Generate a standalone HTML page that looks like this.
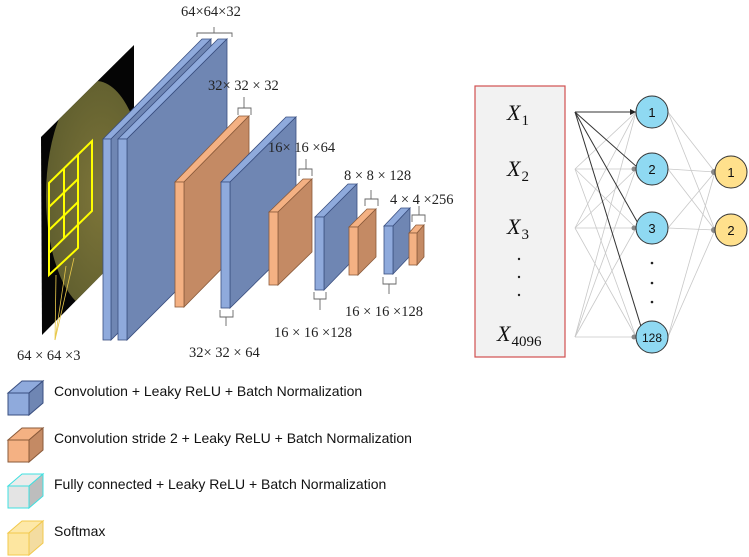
<!DOCTYPE html>
<html><head><meta charset="utf-8"><style>
body{margin:0;background:#fff}
svg{display:block}
.s{font-family:"Liberation Serif",serif;font-size:14.5px;fill:#222}
.l{font-family:"Liberation Sans",sans-serif;font-size:14px;fill:#111}
.x{font-family:"Liberation Serif",serif;font-style:italic;font-size:22px;fill:#111}
.sub{font-family:"Liberation Serif",serif;font-style:normal;font-size:15px;fill:#111}
.n{font-family:"Liberation Sans",sans-serif;font-size:13px;fill:#111;text-anchor:middle}
</style></head><body>
<svg width="749" height="557" viewBox="0 0 749 557" xmlns="http://www.w3.org/2000/svg">
<defs>
<clipPath id="cp"><polygon points="41,137 134,45 134,242 42,335"/></clipPath>
<radialGradient id="rg" cx="0.55" cy="0.5" r="0.6"><stop offset="0" stop-color="#7d7539"/><stop offset="1" stop-color="#5e5d2e"/></radialGradient>
</defs>
<polygon points="41,137 134,45 134,242 42,335" fill="#050505"/>
<g clip-path="url(#cp)"><ellipse cx="96" cy="196" rx="50" ry="115" fill="url(#rg)"/></g>
<g stroke="#ffff00" stroke-width="2" fill="none">
<polygon points="49,183 92,141 92,211 49,253"/>
<polyline points="49,253 49,275 78,248 78,225"/>
<line x1="78" y1="155" x2="78" y2="225"/>
<line x1="64" y1="169" x2="64" y2="239"/>
<line x1="49" y1="207" x2="78" y2="179"/>
<line x1="49" y1="230" x2="78" y2="202"/>
</g>
<g stroke="#e8c84a" stroke-width="0.8"><line x1="55" y1="340" x2="56" y2="275"/><line x1="55" y1="340" x2="66" y2="266"/><line x1="55" y1="340" x2="74" y2="258"/></g>

<g stroke="#3a4f80" stroke-width="0.8">
<polygon points="103,139 202,39 211,39 111,139" fill="#8faadc"/>
<polygon points="111,139 211,39 211,240 111,340" fill="#6f86b3"/>
<rect x="103" y="139" width="8" height="201" fill="#8faadc"/>
<polygon points="118,139 218,39 227,39 127,139" fill="#8faadc"/>
<polygon points="127,139 227,39 227,240 127,340" fill="#6f86b3"/>
<rect x="118" y="139" width="9" height="201" fill="#8faadc"/>
</g>
<g stroke="#8a5a3a" stroke-width="0.8">
<polygon points="175,182 239,116 249,116 184,182" fill="#f4b183"/>
<polygon points="184,182 249,116 249,241 184,307" fill="#c48a64"/>
<rect x="175" y="182" width="9" height="125" fill="#f4b183"/>
</g>
<g stroke="#3a4f80" stroke-width="0.8">
<polygon points="221,182 286,117 296,117 230,182" fill="#8faadc"/>
<polygon points="230,182 296,117 296,243 230,308" fill="#6f86b3"/>
<rect x="221" y="182" width="9" height="126" fill="#8faadc"/>
</g>
<g stroke="#8a5a3a" stroke-width="0.8">
<polygon points="269,212 303,179 312,179 278,212" fill="#f4b183"/>
<polygon points="278,212 312,179 312,252 278,285" fill="#c48a64"/>
<rect x="269" y="212" width="9" height="73" fill="#f4b183"/>
</g>
<g stroke="#3a4f80" stroke-width="0.8">
<polygon points="315,217 348,184 357,184 324,217" fill="#8faadc"/>
<polygon points="324,217 357,184 357,256 324,290" fill="#6f86b3"/>
<rect x="315" y="217" width="9" height="73" fill="#8faadc"/>
</g>
<g stroke="#8a5a3a" stroke-width="0.8">
<polygon points="349,227 367,209 376,209 358,227" fill="#f4b183"/>
<polygon points="358,227 376,209 376,257 358,275" fill="#c48a64"/>
<rect x="349" y="227" width="9" height="48" fill="#f4b183"/>
</g>
<g stroke="#3a4f80" stroke-width="0.8">
<polygon points="384,226 401,208 410,208 393,226" fill="#8faadc"/>
<polygon points="393,226 410,208 410,256 393,274" fill="#6f86b3"/>
<rect x="384" y="226" width="9" height="48" fill="#8faadc"/>
</g>
<g stroke="#8a5a3a" stroke-width="0.8">
<polygon points="409,233 416,225 424,225 417,233" fill="#f4b183"/>
<polygon points="417,233 424,225 424,257 417,265" fill="#c48a64"/>
<rect x="409" y="233" width="8" height="32" fill="#f4b183"/>
</g>

<g stroke="#666" stroke-width="0.9" fill="none">
<path d="M197,37 v-4 h35 v4 M214,33 v-6"/>
<path d="M238,115 v-7 h13 v7 M244,108 v-11"/>
<path d="M299,176 v-7 h13 v7 M306,169 v-10"/>
<path d="M365,206 v-7 h13 v7 M371,199 v-9"/>
<path d="M412,222 v-7 h13 v7 M419,215 v-9"/>
<path d="M220,310 v7 h13 v-7 M226,317 v9"/>
<path d="M314,292 v7 h12 v-7 M320,299 v11"/>
<path d="M383,277 v7 h13 v-7 M389,284 v10"/>
</g>
<text class="s" x="181" y="16">64×64×32</text>
<text class="s" x="208" y="90">32× 32 × 32</text>
<text class="s" x="268" y="152">16× 16 ×64</text>
<text class="s" x="344" y="180">8 × 8 × 128</text>
<text class="s" x="390" y="204">4 × 4 ×256</text>
<text class="s" x="189" y="357">32× 32 × 64</text>
<text class="s" x="274" y="337">16 × 16 ×128</text>
<text class="s" x="345" y="316">16 × 16 ×128</text>
<text class="s" x="17" y="360">64 × 64 ×3</text>

<rect x="475" y="86" width="90" height="271" fill="#f2f2f2" stroke="#d05050" stroke-width="1.2"/>
<text class="x" x="507" y="120">X<tspan class="sub" dx="1" dy="5">1</tspan></text>
<text class="x" x="507" y="176">X<tspan class="sub" dx="1" dy="5">2</tspan></text>
<text class="x" x="507" y="234">X<tspan class="sub" dx="1" dy="5">3</tspan></text>
<text class="x" x="497" y="341">X<tspan class="sub" dx="1" dy="5">4096</tspan></text>
<g fill="#222"><circle cx="519" cy="259" r="1.2"/><circle cx="519" cy="277" r="1.2"/><circle cx="519" cy="295" r="1.2"/>
<circle cx="652" cy="263" r="1.3"/><circle cx="652" cy="283" r="1.3"/><circle cx="652" cy="302" r="1.3"/></g>
<g stroke="#c8c8c8" stroke-width="0.8">
<line x1="575" y1="169" x2="636" y2="112"/><line x1="575" y1="169" x2="636" y2="169"/><line x1="575" y1="169" x2="636" y2="228"/><line x1="575" y1="169" x2="636" y2="337"/>
<line x1="575" y1="228" x2="636" y2="112"/><line x1="575" y1="228" x2="636" y2="169"/><line x1="575" y1="228" x2="636" y2="228"/><line x1="575" y1="228" x2="636" y2="337"/>
<line x1="575" y1="337" x2="636" y2="112"/><line x1="575" y1="337" x2="636" y2="169"/><line x1="575" y1="337" x2="636" y2="228"/><line x1="575" y1="337" x2="636" y2="337"/>
<line x1="668" y1="112" x2="715" y2="172"/><line x1="668" y1="112" x2="715" y2="230"/>
<line x1="668" y1="169" x2="715" y2="172"/><line x1="668" y1="169" x2="715" y2="230"/>
<line x1="668" y1="228" x2="715" y2="172"/><line x1="668" y1="228" x2="715" y2="230"/>
<line x1="668" y1="337" x2="715" y2="172"/><line x1="668" y1="337" x2="715" y2="230"/>
</g>
<g stroke="#333" stroke-width="1">
<line x1="575" y1="112" x2="636" y2="112"/><line x1="575" y1="112" x2="637" y2="167"/><line x1="575" y1="112" x2="639" y2="225"/><line x1="575" y1="112" x2="643" y2="333"/>
</g>
<g fill="#888"><circle cx="634" cy="169" r="2.5"/><circle cx="634" cy="228" r="2.5"/><circle cx="634" cy="337" r="2.5"/><circle cx="714" cy="172" r="3"/><circle cx="714" cy="230" r="3"/></g>
<polygon points="636,112 630,109 630,115" fill="#222"/>
<g stroke="#333" stroke-width="1">
<circle cx="652" cy="112" r="16" fill="#8fd9f2"/><circle cx="652" cy="169" r="16" fill="#8fd9f2"/><circle cx="652" cy="228" r="16" fill="#8fd9f2"/><circle cx="652" cy="337" r="16" fill="#8fd9f2"/>
<circle cx="731" cy="172" r="16" fill="#ffe08c"/><circle cx="731" cy="230" r="16" fill="#ffe08c"/>
</g>
<text class="n" x="652" y="117">1</text><text class="n" x="652" y="174">2</text><text class="n" x="652" y="233">3</text><text class="n" x="652" y="342" style="font-size:12px">128</text>
<text class="n" x="731" y="177">1</text><text class="n" x="731" y="235">2</text>

<g stroke-width="1">
<g stroke="#3a4f80"><polygon points="8,393 22,381 43,381 29,393" fill="#8faadc"/><polygon points="29,393 43,381 43,403 29,415" fill="#6f86b3"/><rect x="8" y="393" width="21" height="22" fill="#8faadc"/></g>
<g stroke="#8a5a3a"><polygon points="8,440 22,428 43,428 29,440" fill="#f4b183"/><polygon points="29,440 43,428 43,450 29,462" fill="#c48a64"/><rect x="8" y="440" width="21" height="22" fill="#f4b183"/></g>
<g stroke="#3fe0e0"><polygon points="8,486 22,474 43,474 29,486" fill="#ececec"/><polygon points="29,486 43,474 43,496 29,508" fill="#bdbdbd"/><rect x="8" y="486" width="21" height="22" fill="#e4e4e4"/></g>
<g stroke="#f2c94c"><polygon points="8,533 22,521 43,521 29,533" fill="#fde8a8"/><polygon points="29,533 43,521 43,543 29,555" fill="#f3dca0"/><rect x="8" y="533" width="21" height="22" fill="#fde6a0"/></g>
</g>
<text class="l" x="54" y="396">Convolution + Leaky ReLU + Batch Normalization</text>
<text class="l" x="54" y="443">Convolution stride 2 + Leaky ReLU + Batch Normalization</text>
<text class="l" x="54" y="489">Fully connected + Leaky ReLU + Batch Normalization</text>
<text class="l" x="54" y="536">Softmax</text>
</svg>
</body></html>
